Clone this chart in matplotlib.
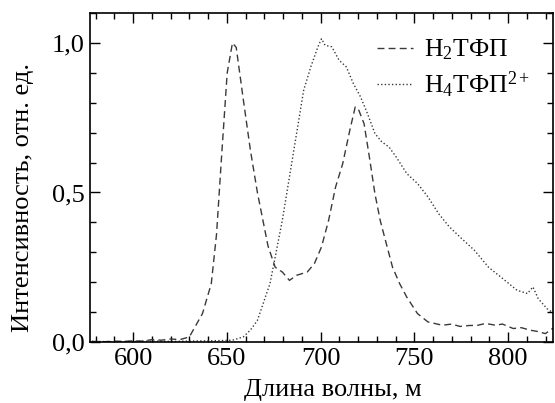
import matplotlib.pyplot as plt
from matplotlib.ticker import MultipleLocator

plt.rcParams['font.family'] = ['Liberation Serif', 'DejaVu Serif']
plt.rcParams['mathtext.fontset'] = 'custom'
plt.rcParams['mathtext.rm'] = 'Liberation Serif'
plt.rcParams['mathtext.it'] = 'Liberation Serif:italic'

# H2TPP (dashed)
wl_h2 = [578, 585, 590, 595, 600, 605, 610, 615, 620, 625, 630, 637, 641.7, 644.5, 647.4,
         650.2, 653, 655, 658.8, 662.6, 666.3, 672, 675.8, 679.6, 683.4, 687.2, 692.9,
         696.7, 700.5, 704.3, 708, 711.8, 715.6, 718.5, 720.4, 723.2, 726, 729, 731.8,
         734.6, 738.4, 742.2, 746, 751.7, 757.3, 765, 770, 774.4, 779, 783.9, 788, 793.4,
         797, 802.8, 807, 812.3, 816, 819.9, 823.7, 825]
h2 = [0.002, 0.001, 0.003, 0.002, 0.004, 0.003, 0.008, 0.006, 0.01, 0.008, 0.017, 0.095,
      0.195, 0.36, 0.64, 0.9, 1.0, 0.985, 0.81, 0.64, 0.5, 0.32, 0.25, 0.234, 0.206, 0.223,
      0.234, 0.262, 0.318, 0.407, 0.518, 0.596, 0.708, 0.786, 0.775, 0.73, 0.62, 0.496,
      0.407, 0.34, 0.25, 0.195, 0.15, 0.095, 0.067, 0.056, 0.06, 0.052, 0.055, 0.056,
      0.062, 0.056, 0.06, 0.045, 0.048, 0.039, 0.035, 0.028, 0.045, 0.04]

# H4TPP2+ (dotted)
wl_h4 = [578, 590, 600, 610, 620, 630, 640, 648, 653, 658.8, 662.6, 666.3, 670, 673,
         675.8, 679.6, 683.4, 687.2, 691, 694.8, 698.6, 700.5, 702.4, 706, 709.9, 713.7,
         717.5, 721.3, 725, 729, 732.7, 736.5, 740.3, 746, 751.7, 757.3, 763, 768.7,
         774.4, 782, 789.6, 797.2, 804.8, 810.4, 813.3, 816.1, 820.9, 824.6]
h4 = [0.002, 0.001, 0.002, 0.003, 0.002, 0.003, 0.004, 0.005, 0.006, 0.017, 0.04, 0.072,
      0.14, 0.195, 0.284, 0.407, 0.552, 0.697, 0.842, 0.92, 0.987, 1.014, 0.992, 0.987,
      0.942, 0.92, 0.864, 0.82, 0.764, 0.697, 0.669, 0.652, 0.619, 0.563, 0.53, 0.485,
      0.429, 0.385, 0.351, 0.307, 0.25, 0.212, 0.173, 0.162, 0.184, 0.145, 0.111, 0.095]

fig = plt.figure(figsize=(5.55, 4.03), dpi=100)
ax = fig.add_axes([90 / 555, 1 - 342 / 403, 463 / 555, 329 / 403])

ax.plot(wl_h2, h2, color='#3a3a3a', lw=1.0, ls=(0, (5, 3)), label='H$_2$ТФП')
ax.plot(wl_h4, h4, color='#3a3a3a', lw=1.0, ls=(0, (1, 1.6)), label='H$_4$ТФП$^{2+}$')

ax.set_xlim(577, 824)
ax.set_ylim(0, 1.1)
ax.xaxis.set_major_locator(MultipleLocator(50))
ax.xaxis.set_minor_locator(MultipleLocator(10))
ax.yaxis.set_major_locator(MultipleLocator(0.5))
ax.yaxis.set_minor_locator(MultipleLocator(0.1))
ax.yaxis.set_major_formatter(lambda v, p: ('%.1f' % v).replace('.', ','))
ax.tick_params(which='both', direction='in', top=True, right=True, labelsize=19, width=1)
ax.tick_params(which='major', length=7, pad=4)
ax.tick_params(which='minor', length=4)
for s in ax.spines.values():
    s.set_linewidth(1.2)

ax.set_xlabel('Длина волны, м', fontsize=19)
ax.set_ylabel('Интенсивность, отн. ед.', fontsize=19)
ax.xaxis.set_label_coords(0.525, -0.112)
ax.yaxis.set_label_coords(-0.12, 0.44)

ax.legend(loc='upper right', bbox_to_anchor=(1.0, 0.995), frameon=False, fontsize=18.5,
          handlelength=1.4, handletextpad=0.4, labelspacing=0.3)

fig.savefig('out.png', dpi=100)
